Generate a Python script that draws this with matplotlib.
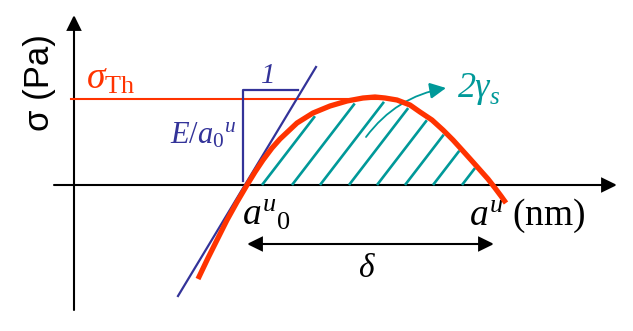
import matplotlib.pyplot as plt
import numpy as np
from matplotlib.patches import FancyArrowPatch

plt.rcParams['mathtext.fontset'] = 'custom'
plt.rcParams['mathtext.rm'] = 'Liberation Serif'
plt.rcParams['mathtext.it'] = 'Liberation Serif:italic'
plt.rcParams['mathtext.bf'] = 'Liberation Serif:bold'

# === Data (pixel-like units, y grows downward) ===
# stress-separation curve
curve_x = [198, 208, 218, 227, 237, 247, 255, 263, 272, 280, 297, 313, 330, 347, 363,
           375, 385, 397, 410, 420, 432, 443, 453, 463, 472, 480, 488, 495, 501, 506]
curve_y = [279, 258, 238, 220, 202, 185, 172, 160, 148, 139, 123, 113, 106, 101, 98,
           97, 98, 100, 105, 112, 120, 130, 140, 151, 161, 170, 179, 188, 196, 203]

# tangent at a0 (slope E/a0)
tangent_x = [178, 316]
tangent_y = [296, 67]

sigma_th = 99          # theoretical strength level
axis_y = 185           # sigma = 0
axis_x = 74            # a = 0
a0 = 247               # equilibrium spacing
a_max = 494            # separation at rupture

# hatch lines (start points on the axis) for the 2*gamma_s area
hatch_x0 = [262, 292, 320, 349, 377, 405, 433, 462]
hatch_slope = 1.3

red = '#FF3300'
blue = '#333399'
teal = '#009999'

# === Figure ===
fig = plt.figure(figsize=(6.33, 3.31), dpi=100)
ax = fig.add_axes([0, 0, 1, 1])
ax.set_xlim(0, 633)
ax.set_ylim(331, 0)
ax.axis('off')


def arrow(p0, p1, style='-|>', lw=1.5, color='black', conn='arc3', ms=20):
    a = FancyArrowPatch(p0, p1, arrowstyle=style, mutation_scale=ms, lw=lw,
                        color=color, shrinkA=0, shrinkB=0, connectionstyle=conn,
                        joinstyle='miter')
    ax.add_patch(a)


# axes
head = '-|>,head_length=0.45,head_width=0.22'
arrow((axis_x, 310), (axis_x, 15), style=head)
arrow((54, axis_y), (617, axis_y), style=head)

# hatching under the curve
cx = np.array(curve_x, dtype=float)
cy = np.array(curve_y, dtype=float)
grid = np.linspace(cx[0], cx[-1], 2000)
cgrid = np.interp(grid, cx, cy)
for x0 in hatch_x0:
    ly = axis_y - hatch_slope * (grid - x0)
    ok = (grid > x0) & (ly <= cgrid + 4)
    xe = grid[ok][0]
    ye = axis_y - hatch_slope * (xe - x0)
    ax.plot([x0, xe], [axis_y, ye], color=teal, lw=1.9, solid_capstyle='butt', zorder=2)

# sigma_th level
ax.plot([71, 380], [sigma_th, sigma_th], color=red, lw=1.5, zorder=3)

# tangent and slope triangle
ax.plot(tangent_x, tangent_y, color=blue, lw=1.6, zorder=3)
ax.plot([243, 243, 298], [181, 90, 90], color=blue, lw=1.6, zorder=3)

# curve
ax.plot(curve_x, curve_y, color=red, lw=3.8, solid_capstyle='butt', zorder=4)

# delta arrow
arrow((a0, 244), (a_max, 244), style='<|-|>,head_length=0.45,head_width=0.22')

# 2 gamma_s arrow
arrow((366, 137), (446, 88), style='-|>,head_length=0.5,head_width=0.25', lw=1.3,
      color=teal, conn='arc3,rad=-0.2', ms=20)

# === Text ===
ax.text(40, 83, 'σ (Pa)', rotation=90, fontsize=25, family='Liberation Sans',
        ha='center', va='center')
ax.text(86, 89, r'$\sigma_{\mathrm{Th}}$', fontsize=27, color=red, ha='left',
        va='baseline')
ax.text(268, 83, '1', fontsize=21, color=blue, family='Liberation Serif',
        style='italic', ha='center', va='baseline')
ax.text(236, 144, r'$E/a_{\mathit{0}}{}^{u}$', fontsize=22, color=blue, ha='right',
        va='baseline')
ax.text(458, 97, '2γ', fontsize=26, color=teal, family='Liberation Serif',
        style='italic', ha='left', va='baseline')
ax.text(490, 104, 's', fontsize=18, color=teal, family='Liberation Serif',
        style='italic', ha='left', va='baseline')
ax.text(242, 225, r'$a^{u}{}_{\mathit{0}}$', fontsize=27, ha='left', va='baseline')
ax.text(469, 225, r'$a^{u}\ (\mathrm{nm})$', fontsize=27, ha='left', va='baseline')
ax.text(367, 277, r'$\delta$', fontsize=24, ha='center', va='baseline')

fig.savefig('out.png', dpi=100)
